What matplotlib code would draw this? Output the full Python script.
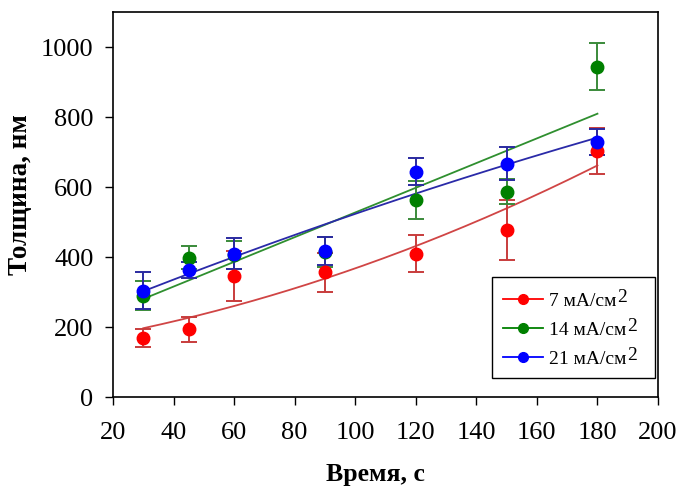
import numpy as np
import matplotlib
matplotlib.use("Agg")
import matplotlib.pyplot as plt
from matplotlib.patches import Rectangle

plt.rcParams['font.family'] = ['Liberation Serif', 'DejaVu Serif']

time_s = [30, 45, 60, 90, 120, 150, 180]

y7 = [168, 193, 346, 356, 410, 477, 703]
e7 = [26, 35, 71, 55, 52, 85, 67]

y14 = [290, 398, 405, 415, 563, 587, 944]
e14 = [41, 33, 40, 43, 53, 36, 68]

y21 = [304, 363, 410, 418, 644, 667, 728]
e21 = [53, 23, 45, 40, 39, 47, 37]

labels = ['7 мА/см', '14 мА/см', '21 мА/см']
label_sup = '2'
fit_deg = [2, 1, 2]

marker_colors = ['#ff0000', '#008000', '#0000ff']
err_colors = ['#c83c3c', '#3a8a3a', '#2a2aa0']
line_colors = ['#d04545', '#2f8f2f', '#2a2aa8']

W, H = 682, 488
fig = plt.figure(figsize=(W / 100, H / 100), dpi=100)
ax = fig.add_axes([113/W, 1-397/H, (658-113)/W, (397-12)/H])

series = [(y7, e7), (y14, e14), (y21, e21)]
x = np.array(time_s, dtype=float)
handles = []
for (ys, es), lab, deg, mc, ec, lc in zip(series, labels, fit_deg, marker_colors, err_colors, line_colors):
    ys = np.array(ys, dtype=float)
    coef = np.polyfit(x, ys, deg)
    xf = np.linspace(x.min(), x.max(), 200)
    ax.plot(xf, np.polyval(coef, xf), color=lc, lw=1.3, zorder=2)
    ax.errorbar(x, ys, yerr=es, fmt='none', ecolor=ec, elinewidth=1.4,
                capsize=6, capthick=1.4, zorder=3)
    ax.plot(x, ys, 'o', color=mc, ms=9, zorder=4)
    h, = ax.plot([], [], '-o', color=mc, ms=7, lw=1.3, label=lab)
    handles.append(h)

ax.set_xlim(20, 200)
ax.set_ylim(0, 1100)
ax.set_xticks(np.arange(20, 201, 20))
ax.set_yticks(np.arange(0, 1001, 200))
ax.tick_params(direction='out', length=6, width=1, labelsize=19, top=False, right=False)
ax.tick_params(axis='x', pad=12)
ax.tick_params(axis='y', pad=8)
for sp in ax.spines.values():
    sp.set_linewidth(1.2)

ax.set_xlabel('Время, с', fontsize=18.5, fontweight='bold')
ax.set_ylabel('Толщина, нм', fontsize=19.5, fontweight='bold')
ax.xaxis.set_label_coords((376-113)/545, (397-463)/385)
ax.yaxis.set_label_coords((33-113)/545, (397-194.5)/385)

# legend box (frame drawn separately so it can be wider than its contents)
box = Rectangle((492/W, 1-378/H), (655-492)/W, (378-277)/H, transform=fig.transFigure,
                facecolor='white', edgecolor='black', lw=1.0, zorder=5)
ax.add_artist(box)

leg = ax.legend(handles=handles, loc='upper left', bbox_to_anchor=(503/W, 1-292/H),
                bbox_transform=fig.transFigure, fontsize=14, frameon=False,
                handlelength=2.05, handletextpad=0.3, borderpad=0,
                labelspacing=0.6, borderaxespad=0)
leg.set_zorder(6)

# full-size raised superscript "2" after each legend label
fig.canvas.draw()
renderer = fig.canvas.get_renderer()
for t in leg.get_texts():
    bb = t.get_window_extent(renderer)
    _, _, d = renderer.get_text_width_height_descent(t.get_text(), t.get_fontproperties(), ismath=False)
    baseline = bb.y0 + d
    fig.text((bb.x1 + 1) / W, (baseline + 8) / H, label_sup,
             fontsize=14, ha='left', va='baseline', transform=fig.transFigure, zorder=7)

fig.savefig('out.png', dpi=100)
